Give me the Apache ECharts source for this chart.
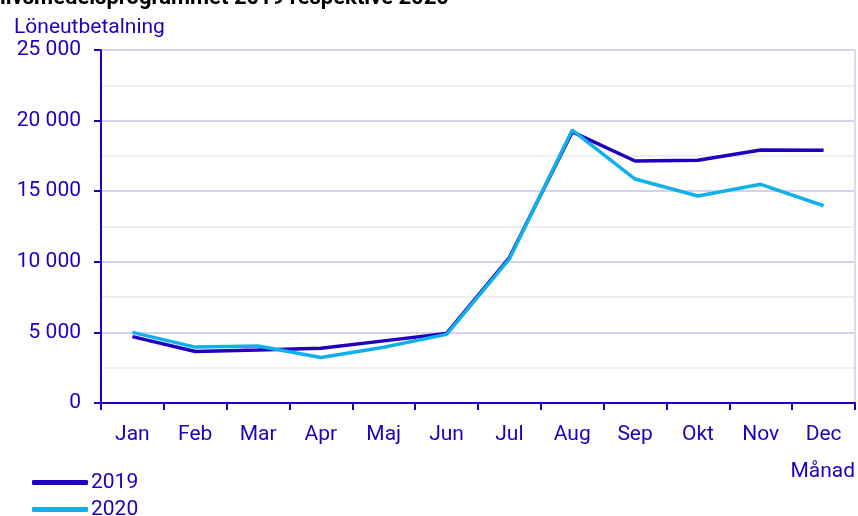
<!DOCTYPE html>
<html>
<head>
<meta charset="utf-8">
<script src="https://cdn.jsdelivr.net/npm/echarts@6/dist/echarts.min.js"></script>
<style>
  html, body { margin: 0; padding: 0; background: #fff; }
  #chart { width: 858px; height: 516px; }
</style>
</head>
<body>
<div id="chart"></div>
<script>
var months = ["Jan", "Feb", "Mar", "Apr", "Maj", "Jun", "Jul", "Aug", "Sep", "Okt", "Nov", "Dec"];
var v2019 = [4700, 3650, 3750, 3870, 4400, 4930, 10300, 19200, 17140, 17190, 17920, 17900];
var v2020 = [5000, 3960, 4040, 3220, 3950, 4860, 10200, 19330, 15860, 14660, 15490, 13970];

var ink = "#1e00be";
var sky = "#12b0ea";
var font = "Roboto";
var fs = 21;

function fmt(v) {
    return String(v).replace(/\B(?=(\d{3})+(?!\d))/g, " ");
}

function legendAt(name, top) {
    return {
        orient: "vertical", left: 32, top: top, padding: 0,
        itemWidth: 56, itemHeight: 5, icon: "roundRect",
        textStyle: { fontSize: fs, color: ink, fontFamily: font, padding: [0, 0, 0, -2] },
        data: [name]
    };
}

var chart = echarts.init(document.getElementById("chart"));
chart.setOption({
    animation: false,
    textStyle: { fontFamily: font },
    title: [{
        text: "livsmedelsprogrammet 2019 respektive 2020",
        left: 0, top: -13, padding: 0,
        textStyle: { fontSize: 22, fontWeight: "bold", color: "#000", fontFamily: font }
    }, {
        text: "Löneutbetalning",
        left: 14, top: 17, padding: 0,
        textStyle: { fontSize: fs, fontWeight: "normal", color: ink, fontFamily: font }
    }],
    graphic: [{
        type: "text", right: 3, top: 461,
        style: { text: "Månad", fontSize: fs, fill: ink, fontFamily: font }
    }],
    legend: [legendAt("2019", 472), legendAt("2020", 499)],
    grid: { left: 101, right: 3, top: 50, bottom: 113 },
    xAxis: {
        type: "category",
        data: months,
        boundaryGap: true,
        axisLine: { lineStyle: { color: ink, width: 2 } },
        axisTick: { show: true, length: 7, lineStyle: { color: ink, width: 2 } },
        axisLabel: { fontSize: fs, color: ink, margin: 21, fontFamily: font }
    },
    yAxis: [{
        type: "value",
        min: 0, max: 25000, interval: 5000,
        axisLine: { show: true, lineStyle: { color: ink, width: 2 } },
        axisTick: { show: true, length: 7, lineStyle: { color: ink, width: 2 } },
        axisLabel: { fontSize: fs, color: ink, margin: 20, fontFamily: font, formatter: fmt },
        splitLine: { show: true, lineStyle: { color: "#d4d1ef", width: 2 } },
        minorTick: { show: false, splitNumber: 2 },
        minorSplitLine: { show: true, lineStyle: { color: "#efeef3", width: 2 } }
    }, {
        type: "value",
        position: "right",
        min: 0, max: 25000, interval: 5000,
        axisLine: { show: true, lineStyle: { color: "#dcdaf2", width: 2 } },
        axisTick: { show: false },
        axisLabel: { show: false },
        splitLine: { show: false }
    }],
    series: [{
        name: "2019",
        type: "line",
        data: v2019,
        symbol: "none",
        lineStyle: { color: ink, width: 3.5 },
        itemStyle: { color: ink }
    }, {
        name: "2020",
        type: "line",
        data: v2020,
        symbol: "none",
        lineStyle: { color: sky, width: 3.5 },
        itemStyle: { color: sky }
    }]
});
</script>
</body>
</html>
